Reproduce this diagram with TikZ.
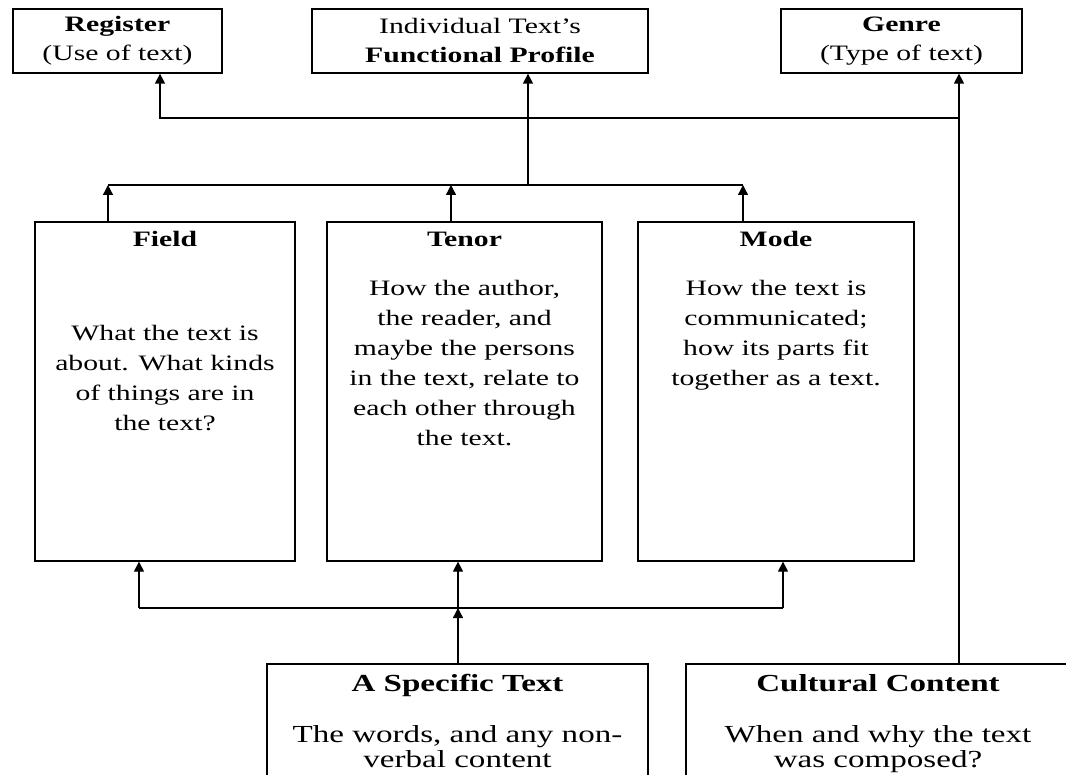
\documentclass[tikz,border=0pt]{standalone}
\usepackage{fontspec}
\setmainfont{Liberation Serif}[FakeStretch=1.35]
\usetikzlibrary{arrows.meta,positioning}

\begin{document}
\begin{tikzpicture}[x=1pt,y=-1pt,
  framebox/.style={draw,line width=1.3pt,inner sep=0pt},
  topcard/.style={framebox,align=center,font=\fontsize{22}{29}\selectfont},
  headtext/.style={font=\fontsize{22}{30}\selectfont\bfseries,text height=15pt,text depth=5pt,inner sep=2pt},
  bodytext/.style={align=center,font=\fontsize{22}{30}\selectfont,inner sep=2pt},
  basehead/.style={font=\fontsize{24.5}{26}\selectfont\bfseries,text height=17pt,text depth=5.5pt,inner sep=2pt},
  basebody/.style={align=center,font=\fontsize{24.5}{25.5}\selectfont,inner sep=2pt},
  rail/.style={line width=1.3pt},
  link/.style={rail,-{Triangle[width=10pt,length=10pt]}}
]
\useasboundingbox (0,0) rectangle (1066,775);
\fill[white] (0,0) rectangle (1066,775);
\clip (0,0) rectangle (1066,775);

% top row
\node[topcard,minimum width=209pt,minimum height=64pt] (register) at (117.5,41) {\textbf{Register}\\(Use of text)};
\node[topcard,minimum width=336pt,minimum height=64pt] (profile) at (480,41) {Individual Text's\\\textbf{Functional Profile}};
\node[topcard,minimum width=241pt,minimum height=64pt] (genre) at (901.5,41) {\textbf{Genre}\\(Type of text)};

% middle row
\node[framebox,minimum width=260pt,minimum height=339pt] (field) at (165,391.5) {};
\node[framebox,minimum width=275pt,minimum height=339pt] (tenor) at (464.5,391.5) {};
\node[framebox,minimum width=276pt,minimum height=339pt] (mode) at (776,391.5) {};

\node[headtext,below=8pt of field.north] (fieldhead) {Field};
\node[headtext,below=8pt of tenor.north] (tenorhead) {Tenor};
\node[headtext,below=8pt of mode.north] (modehead) {Mode};

\node[bodytext,below=69pt of fieldhead] (fieldbody) {What the text is\\about. What kinds\\of things are in\\the text?};
\node[bodytext,below=24pt of tenorhead] (tenorbody) {How the author,\\the reader, and\\maybe the persons\\in the text, relate to\\each other through\\the text.};
\node[bodytext,below=24pt of modehead] (modebody) {How the text is\\communicated;\\how its parts fit\\together as a text.};

% bottom row
\node[framebox,minimum width=381pt,minimum height=140pt] (specific) at (457.5,734) {};
\node[framebox,minimum width=384pt,minimum height=140pt] (cultural) at (878,734) {};

\node[basehead,below=9pt of specific.north] (specifichead) {A Specific Text};
\node[basehead,below=9pt of cultural.north] (culturalhead) {Cultural Content};
\node[basebody,below=24pt of specifichead] (specificbody) {The words, and any non-\\verbal content};
\node[basebody,below=24pt of culturalhead] (culturalbody) {When and why the text\\was composed?};

% junction points
\coordinate (culturejoin) at (959,118);
\coordinate (registerin) at (160,118);
\coordinate (fieldout) at (108,185);
\coordinate (tenorout) at (451,185);
\coordinate (modeout) at (743,185);
\coordinate (profilein) at (528,185);
\coordinate (fieldin) at (139,608);
\coordinate (tenorin) at (458,608);
\coordinate (modein) at (783,608);

% cultural content to genre and register
\draw[link] (cultural.north -| culturejoin) -- (genre.south -| culturejoin);
\draw[link] (culturejoin) -- (registerin) -- (register.south -| registerin);

% field, tenor, mode to functional profile
\draw[rail] (fieldout) -- (modeout);
\foreach \card/\port in {field/fieldout,tenor/tenorout,mode/modeout}
  \draw[link] (\card.north -| \port) -- (\port);
\draw[link] (profilein) -- (profile.south -| profilein);

% specific text to field, tenor, mode
\draw[rail] (fieldin) -- (modein);
\foreach \card/\port in {field/fieldin,tenor/tenorin,mode/modein}
  \draw[link] (\port) -- (\card.south -| \port);
\draw[link] (specific.north -| tenorin) -- (tenorin);
\end{tikzpicture}
\end{document}
